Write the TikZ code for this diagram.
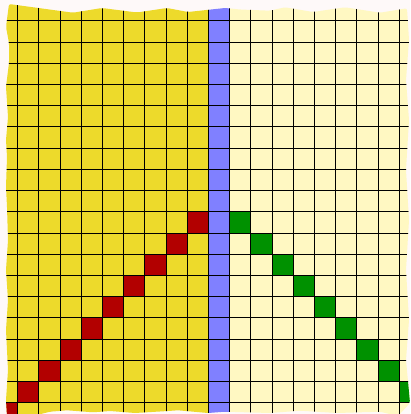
\documentclass[tikz,border=0pt]{standalone}
\definecolor{bgc}{RGB}{254,249,249}
\definecolor{yel}{RGB}{237,218,43}
\definecolor{lyel}{RGB}{255,248,194}
\definecolor{blu}{RGB}{128,128,255}
\definecolor{redc}{RGB}{178,0,0}
\definecolor{grn}{RGB}{0,145,0}
\tikzset{gridline/.style={black,line width=1pt}}
\begin{document}
\begin{tikzpicture}[x=1pt,y=-1pt]
\useasboundingbox (0,0) rectangle (410,414);
\fill[bgc] (0,0) rectangle (410,414);
\begin{scope}
\clip[rounded corners=2pt] (9,4) -- (73,12.7) -- (102,8) -- (137,12.5) -- (167,8) -- (188,12) -- (225,8) -- (240,9.5) -- (270,10.7) -- (285,7.3) -- (313,12) -- (345,7.3) -- (380,12.7) -- (407,8.3)
  -- (409,40) -- (406,80) -- (409,120) -- (406,170) -- (409,220) -- (406,270) -- (409,320) -- (406,360) -- (410,403) -- (398,416)
  -- (380,411.7) -- (337,413) -- (300,410.7) -- (270,413) -- (225,411.7) -- (208,413) -- (178,410.3) -- (168,411) -- (135,413) -- (110,411) -- (93,412.3) -- (67,410.3) -- (50,411.7) -- (37,415) -- (7,416)
  -- (6,400) -- (8,370) -- (6,330) -- (8,300) -- (6,270) -- (8,240) -- (7,207) -- (6,187) -- (7,157) -- (6,140) -- (8,117) -- (6,87) -- (9,63) -- (9,43) -- (6,27) -- cycle;
\fill[yel] (-5,-5) rectangle (208.5,420);
\fill[blu] (208.5,-5) rectangle (229.7,420);
\fill[lyel] (229.7,-5) rectangle (420,420);
\foreach \c in {-1,...,8} {
  \pgfmathsetmacro\r{17-\c}
  \fill[redc] ({17.7+21.2*\c},{21+21.2*\r}) rectangle +(21.2,21.2);
}
\foreach \c in {10,...,19} {
  \pgfmathsetmacro\r{\c-1}
  \fill[grn] ({17.7+21.2*\c},{21+21.2*\r}) rectangle +(21.2,21.2);
}
\foreach \k in {-1,...,19} {
  \draw[gridline] ({17.7+21.2*\k},-5) -- ({17.7+21.2*\k},420);
  \draw[gridline] (-5,{21+21.2*\k}) -- (420,{21+21.2*\k});
}
\end{scope}
\end{tikzpicture}
\end{document}
